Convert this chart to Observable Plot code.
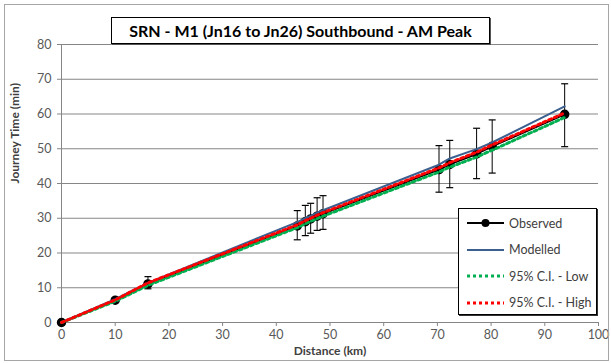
<!DOCTYPE html>
<html>
<head>
<meta charset="utf-8">
<script src="https://cdn.jsdelivr.net/npm/d3@7"></script>
<script src="https://cdn.jsdelivr.net/npm/@observablehq/plot@0.6"></script>
<style>
  body { margin: 0; background: #fff; }
  #wrap { position: relative; width: 611px; height: 363px; font-family: Lato, "Open Sans", sans-serif; }
  #frame { position: absolute; left: 4px; top: 4px; width: 603px; height: 355px; border: 1px solid #a6a6a6; pointer-events: none; }
  #title { position: absolute; left: 111px; top: 17px; width: 377px; height: 25px; border: 1px solid #000; background: #fff;
           font: bold 16px Lato, sans-serif; color: #000; text-align: center; line-height: 25px; box-shadow: 1px 1px 0 #555; }
  #legend { position: absolute; left: 458px; top: 208px; width: 137px; height: 105px; border: 1px solid #000; background: #fff;
            box-shadow: 1px 1px 0 #333; font: 12.5px Lato, sans-serif; color: #404040; }
  .item { position: absolute; left: 8px; height: 16px; display: flex; align-items: center; }
  .item svg { margin-right: 4px; }
</style>
</head>
<body>
<div id="wrap">
  <div id="chart"></div>
  <div id="frame"></div>
  <div id="title">SRN - M1 (Jn16 to Jn26) Southbound - AM Peak</div>
  <div id="legend"></div>
</div>
<script>
const distance   = [0, 10.0, 16.1, 43.9, 45.4, 46.4, 47.6, 48.7, 70.3, 72.3, 77.3, 80.2, 93.7];
const observed   = [0, 6.4, 11.1, 27.8, 29.0, 29.8, 30.6, 31.3, 44.0, 45.5, 48.5, 50.7, 59.9];
const errLow     = [0, 5.8, 9.7, 23.8, 25.0, 25.7, 26.5, 26.8, 37.5, 38.8, 41.4, 43.0, 50.6];
const errHigh    = [0, 7.2, 13.2, 32.2, 33.7, 34.3, 35.9, 36.5, 50.9, 52.4, 55.9, 58.3, 68.7];
const modelled   = [0, 6.7, 11.4, 28.9, 30.0, 30.7, 31.6, 32.3, 45.4, 47.2, 49.9, 51.8, 62.2];
const ciLow      = [0, 6.1, 10.7, 27.3, 28.4, 29.1, 29.9, 30.6, 43.3, 44.7, 47.6, 49.6, 59.0];
const ciHigh     = [0, 6.5, 11.4, 28.1, 29.3, 30.0, 30.9, 31.6, 44.5, 46.0, 49.0, 51.1, 60.3];
const xTicks = [0, 10, 20, 30, 40, 50, 60, 70, 80, 90, 100];
const yTicks = [0, 10, 20, 30, 40, 50, 60, 70, 80];
const seriesNames = ["Observed", "Modelled", "95% C.I. - Low", "95% C.I. - High"];

const rows = distance.map((d, i) => ({
  d, obs: observed[i], lo: errLow[i], hi: errHigh[i], mod: modelled[i], cl: ciLow[i], ch: ciHigh[i]
}));
const bars = rows.filter(r => r.hi > r.lo);

const hcap = { draw(ctx) { ctx.moveTo(-3.5, 0); ctx.lineTo(3.5, 0); } };

const colModel = "#3b5f8f", colLow = "#00b050", colHigh = "#ff0000";

const chart = Plot.plot({
  width: 611, height: 363,
  marginLeft: 61, marginRight: 13, marginTop: 44, marginBottom: 41,
  style: { fontFamily: "Lato, sans-serif", fontSize: "12.5px", color: "#595959", background: "transparent" },
  x: { domain: [0, 100] },
  y: { domain: [0, 80] },
  marks: [
    Plot.gridY(yTicks, { stroke: "#868686", strokeOpacity: 1, x1: 0, x2: 100 }),
    Plot.axisY(yTicks, { tickSize: 4, tickPadding: 6, stroke: "#868686", label: null, fill: "#595959" }),
    Plot.axisX(xTicks, { tickSize: 4, tickPadding: 4, stroke: "#868686", label: null, fill: "#595959" }),
    Plot.ruleX([0], { stroke: "#868686" }),
    Plot.ruleY([0], { stroke: "#868686" }),
    Plot.text(["Journey Time (min)"], { frameAnchor: "left", dx: -46, rotate: -90, fontWeight: "bold", fill: "#404040", fontSize: 12 }),
    Plot.text(["Distance (km)"], { frameAnchor: "bottom", dy: 32, fontWeight: "bold", fill: "#404040", fontSize: 12 }),
    Plot.line(rows, { x: "d", y: "obs", stroke: "#000", strokeWidth: 2 }),
    Plot.link(bars, { x1: "d", x2: "d", y1: "lo", y2: "hi", stroke: "#000", strokeWidth: 1 }),
    Plot.dot(bars, { x: "d", y: "lo", symbol: hcap, stroke: "#000", fill: "none", strokeWidth: 1.2 }),
    Plot.dot(bars, { x: "d", y: "hi", symbol: hcap, stroke: "#000", fill: "none", strokeWidth: 1.2 }),
    Plot.dot(rows, { x: "d", y: "obs", r: 4, fill: "#000", stroke: "#000" }),
    Plot.line(rows, { x: "d", y: "mod", stroke: colModel, strokeWidth: 2 }),
    Plot.line(rows, { x: "d", y: "cl", stroke: colLow, strokeWidth: 3, strokeDasharray: "3,3" }),
    Plot.line(rows, { x: "d", y: "ch", stroke: colHigh, strokeWidth: 3, strokeDasharray: "3,3" })
  ]
});
document.getElementById("chart").appendChild(chart);

// legend
const legend = document.getElementById("legend");
const samples = [
  `<line x1="0" y1="7" x2="37" y2="7" stroke="#000" stroke-width="2"/><circle cx="18.5" cy="7" r="4" fill="#000"/>`,
  `<line x1="0" y1="7" x2="37" y2="7" stroke="${colModel}" stroke-width="2"/>`,
  `<line x1="0" y1="7" x2="37" y2="7" stroke="${colLow}" stroke-width="3" stroke-dasharray="3,3"/>`,
  `<line x1="0" y1="7" x2="37" y2="7" stroke="${colHigh}" stroke-width="3" stroke-dasharray="3,3"/>`
];
seriesNames.forEach((name, i) => {
  const div = document.createElement("div");
  div.className = "item";
  div.style.top = (6 + i * 26.5) + "px";
  div.innerHTML = `<svg width="38" height="14">${samples[i]}</svg><span>${name}</span>`;
  legend.appendChild(div);
});
</script>
</body>
</html>
